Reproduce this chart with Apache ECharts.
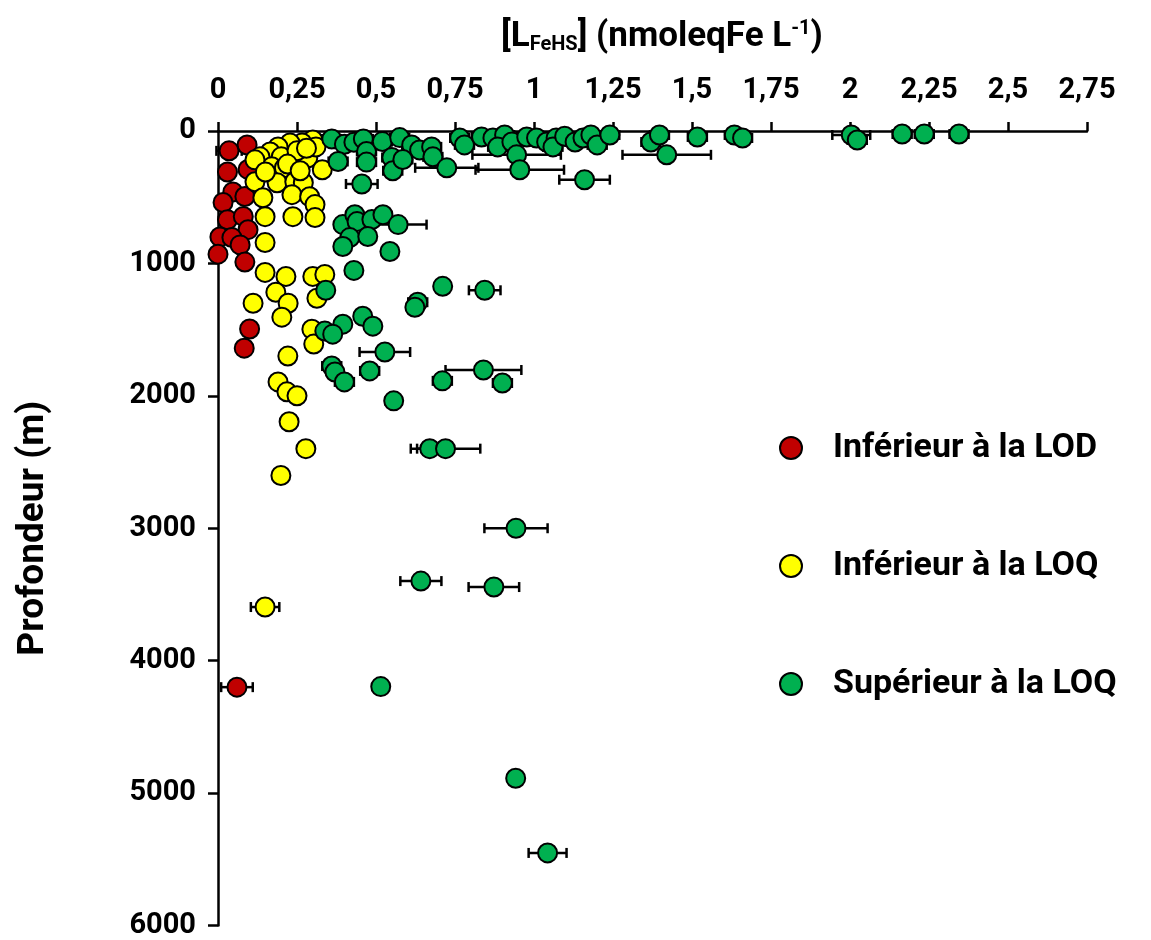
<!DOCTYPE html>
<html><head><meta charset="utf-8">
<script src="https://cdn.jsdelivr.net/npm/echarts@6/dist/echarts.min.js"></script>
<style>html,body{margin:0;padding:0;background:#fff}#c{width:1151px;height:940px}</style>
</head><body><div id="c"></div>
<script>
// [value, depth (m), error]
const lodPoints = [
 [0.092,105,0.015],[0.035,150,0.04],[0.03,310,0.015],[0.095,290,0.015],[0.047,460,0.015],[0.085,495,0.015],
 [0.016,540,0.015],[0.03,670,0.015],[0.08,645,0.015],[0.095,745,0.015],[0.006,800,0.015],[0.044,805,0.015],
 [0.07,860,0.015],[0.0,930,0.015],[0.085,990,0.015],[0.1,1495,0.015],[0.083,1640,0.015],[0.06,4200,0.05]
];
const loqPoints = [
 [0.30,68,0.02],[0.266,90,0.02],[0.228,90,0.02],[0.19,120,0.02],[0.165,158,0.02],[0.133,195,0.02],[0.2,195,0.02],
 [0.243,218,0.02],[0.284,203,0.02],[0.33,293,0.02],[0.17,270,0.02],[0.21,278,0.02],[0.117,383,0.02],[0.187,391,0.02],
 [0.243,383,0.02],[0.27,391,0.02],[0.142,504,0.02],[0.234,481,0.02],[0.29,496,0.02],[0.307,556,0.02],[0.149,647,0.02],
 [0.237,647,0.02],[0.307,654,0.02],[0.149,842,0.02],[0.117,218,0.02],[0.31,120,0.02],[0.25,150,0.02],[0.28,130,0.02],
 [0.22,250,0.02],[0.15,310,0.02],[0.26,300,0.02],
 [0.149,1068,0.02],[0.215,1098,0.02],[0.30,1098,0.02],[0.338,1083,0.02],[0.183,1218,0.02],[0.111,1301,0.02],
 [0.222,1301,0.02],[0.202,1406,0.02],[0.313,1263,0.02],[0.297,1497,0.02],[0.303,1609,0.02],[0.221,1700,0.02],
 [0.19,1895,0.02],[0.218,1970,0.02],[0.25,2000,0.02],[0.225,2196,0.02],[0.278,2399,0.02],[0.199,2602,0.02],
 [0.149,3595,0.045]
];
const supPoints = [
 [0.36,60,0.03],[0.40,100,0.03],[0.43,85,0.03],[0.46,60,0.03],[0.47,155,0.03],[0.47,235,0.03],[0.38,230,0.03],
 [0.52,80,0.03],[0.55,200,0.03],[0.575,50,0.03],[0.613,105,0.03],[0.553,300,0.03],[0.585,215,0.03],[0.638,143,0.03],
 [0.676,120,0.03],[0.68,195,0.03],[0.724,278,0.1],[0.765,53,0.03],[0.78,105,0.03],[0.834,45,0.03],[0.87,53,0.03],
 [0.907,30,0.03],[0.885,120,0.03],[0.93,83,0.03],[0.945,180,0.14],[0.955,293,0.14],[0.977,45,0.03],[1.008,53,0.03],
 [1.04,83,0.03],[1.07,53,0.03],[1.06,120,0.03],[1.097,40,0.03],[1.13,83,0.03],[1.155,53,0.03],[1.18,30,0.03],
 [1.2,105,0.03],[1.24,30,0.03],[1.37,83,0.03],[1.397,30,0.03],[1.42,180,0.14],[1.517,45,0.03],[1.634,30,0.03],
 [1.66,53,0.03],[1.16,368,0.08],[2.004,30,0.06],[2.023,68,0.03],[2.165,23,0.03],[2.235,23,0.03],[2.345,23,0.03],
 [0.455,400,0.05],
 [0.395,707,0.02],[0.433,632,0.02],[0.44,684,0.02],[0.487,669,0.02],[0.522,632,0.02],[0.57,707,0.09],[0.417,805,0.02],
 [0.395,872,0.02],[0.474,797,0.02],[0.544,910,0.02],[0.43,1053,0.02],[0.341,1203,0.02],[0.711,1173,0.02],
 [0.844,1203,0.05],[0.632,1293,0.03],[0.623,1331,0.02],[0.458,1399,0.02],[0.49,1474,0.02],[0.395,1459,0.02],
 [0.338,1511,0.02],[0.363,1534,0.02],[0.528,1669,0.08],[0.36,1775,0.03],[0.37,1820,0.02],[0.4,1895,0.03],
 [0.48,1812,0.03],[0.71,1887,0.03],[0.84,1805,0.12],[0.9,1903,0.03],[0.556,2038,0.025],[0.67,2399,0.04],
 [0.72,2399,0.11],[0.943,3000,0.1],[0.642,3399,0.065],[0.873,3444,0.08],[0.515,4196,0.015],[0.942,4888,0.02],
 [1.043,5452,0.06]
];
const seriesNames = ['Inférieur à la LOD','Inférieur à la LOQ','Supérieur à la LOQ'];
const seriesColors = ['#C00000','#FFFF00','#00B050'];
const xTickLabels = ['0','0,25','0,5','0,75','1','1,25','1,5','1,75','2','2,25','2,5','2,75'];
const yTickLabels = ['0','1000','2000','3000','4000','5000','6000'];

const FONT = 'Roboto, "Open Sans", sans-serif';
const chart = echarts.init(document.getElementById('c'), null, {renderer:'canvas'});

function errSeries(pts){
  return {
    type:'custom', silent:true, z:1,
    data: pts.map(p=>[p[0],p[1],p[2]]),
    encode:{x:0,y:1},
    renderItem:function(params, api){
      const x=api.value(0), y=api.value(1), e=api.value(2);
      const a=api.coord([x-e,y]), b=api.coord([x+e,y]);
      const st={stroke:'#000',lineWidth:2.5};
      const h=5;
      return {type:'group',children:[
        {type:'line',shape:{x1:a[0],y1:a[1],x2:b[0],y2:b[1]},style:st},
        {type:'line',shape:{x1:a[0],y1:a[1]-h,x2:a[0],y2:a[1]+h},style:st},
        {type:'line',shape:{x1:b[0],y1:b[1]-h,x2:b[0],y2:b[1]+h},style:st}
      ]};
    }
  };
}
function scat(i, pts){
  return {
    type:'scatter', name:seriesNames[i], z:2+i,
    data: pts.map(p=>[p[0],p[1]]),
    symbol:'circle', symbolSize:19,
    itemStyle:{color:seriesColors[i], borderColor:'#000', borderWidth:2, opacity:1},
    emphasis:{disabled:true}
  };
}

chart.setOption({
  animation:false,
  backgroundColor:'#fff',
  title:{
    text:'[L{sub|FeHS}] (nmoleqFe L{sup|-1})',
    left:496, top:14,
    textStyle:{
      fontFamily:FONT, fontWeight:'bold', fontSize:35, color:'#000',
      rich:{
        sub:{fontFamily:FONT, fontWeight:'bold', fontSize:20, color:'#000', verticalAlign:'bottom', padding:[16,0,0,0]},
        sup:{fontFamily:FONT, fontWeight:'bold', fontSize:20, color:'#000', verticalAlign:'top', padding:[0,0,16,0]}
      }
    }
  },
  legend:{
    orient:'vertical', left:774, top:426,
    data:seriesNames,
    itemWidth:22, itemHeight:22, itemGap:84,
    icon:'circle',
    textStyle:{fontFamily:FONT, fontWeight:'bold', fontSize:34, color:'#000', padding:[0,0,0,26]},
    selectedMode:false
  },
  grid:{left:218, right:64, top:131, bottom:11, containLabel:false},
  xAxis:{
    type:'value', position:'top', min:0, max:2.75, interval:0.25,
    axisLine:{show:true, onZero:false, lineStyle:{color:'#000', width:2.5}},
    axisTick:{show:true, inside:false, length:9, lineStyle:{color:'#000', width:2.5}},
    splitLine:{show:false},
    axisLabel:{margin:26, fontFamily:FONT, fontWeight:'bold', fontSize:29, color:'#000',
      formatter:function(v){return xTickLabels[Math.round(v/0.25)];}}
  },
  yAxis:{
    type:'value', inverse:true, min:0, max:6000, interval:1000,
    name:'Profondeur (m)', nameLocation:'middle', nameGap:166, nameRotate:90,
    nameTextStyle:{fontFamily:FONT, fontWeight:'bold', fontSize:37, color:'#000'},
    axisLine:{show:true, onZero:false, lineStyle:{color:'#000', width:2.5}},
    axisTick:{show:true, inside:false, length:10, lineStyle:{color:'#000', width:2.5}},
    splitLine:{show:false},
    axisLabel:{margin:22, fontFamily:FONT, fontWeight:'bold', fontSize:29, color:'#000',
      formatter:function(v){return yTickLabels[Math.round(v/1000)];}}
  },
  series:[
    errSeries(lodPoints), errSeries(loqPoints), errSeries(supPoints),
    scat(0, lodPoints), scat(1, loqPoints), scat(2, supPoints)
  ]
});
</script></body></html>
